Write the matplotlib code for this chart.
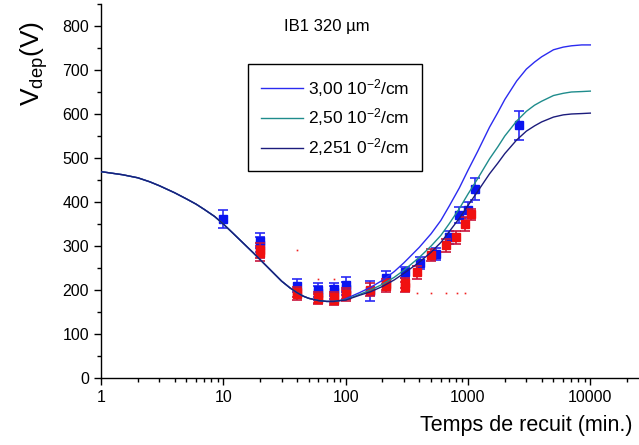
import matplotlib
matplotlib.use("Agg")
import matplotlib.pyplot as plt
from matplotlib.ticker import MultipleLocator, LogLocator, FixedLocator, FixedFormatter

plt.rcParams['font.family'] = ['Liberation Sans', 'DejaVu Sans']
plt.rcParams['mathtext.default'] = 'regular'

# fitted curves
t_low = [1, 1.5, 2, 2.5, 3, 4, 5, 6, 7, 8.5, 10, 12, 15, 17.5, 20, 25, 30, 35,
         40, 45, 50, 60, 70, 80, 90]
v_low = [469, 462, 455, 446, 437, 421, 407, 395, 383, 367, 350, 329, 303, 285,
         269, 242, 220, 205, 194, 186, 181, 176, 174, 174, 176]

t_high = [100, 130, 160, 200, 250, 300, 400, 500, 600, 700, 850, 1000, 1200,
          1500, 1750, 2000, 2500, 3000, 3500, 4000, 5000, 6000, 7000, 8500, 10000]
v_300 = [180, 194, 206, 222, 242, 262, 297, 328, 358, 390, 432, 472, 515,
         570, 603, 633, 675, 702, 718, 730, 746, 752, 755, 757, 757]
v_250 = [178, 190, 200, 213, 229, 245, 274, 300, 324, 350, 385, 418, 453,
         498, 525, 550, 584, 606, 620, 629, 642, 647, 650, 651, 652]
v_225 = [177, 188, 196, 208, 223, 238, 263, 286, 308, 332, 363, 392, 424,
         464, 488, 510, 541, 561, 573, 582, 593, 598, 600, 601, 602]

curve_labels = ['3,00 10$^{-2}$/cm', '2,50 10$^{-2}$/cm', '2,251 0$^{-2}$/cm']
curve_colors = ['#2b2bf0', '#1f8c8c', '#1c1c7c']

# measured points
blue_t = [10, 20, 20, 40, 60, 60, 80, 80, 100, 100, 157, 215, 303, 404, 551, 696, 852, 996, 1150, 2600]
blue_v = [361, 312, 303, 210, 200, 193, 202, 195, 212, 203, 198, 228, 240, 262, 282, 320, 370, 382, 430, 574]
blue_e = [21, 17, 17, 15, 15, 15, 15, 15, 17, 15, 22, 15, 12, 14, 14, 15, 18, 18, 25, 33]

red_t = [20, 20, 40, 40, 60, 60, 80, 80, 100, 100, 157, 215, 215, 303, 303, 381, 500, 657, 801, 951, 1050]
red_v = [290, 283, 195, 190, 183, 180, 183, 178, 192, 188, 201, 213, 208, 216, 207, 240, 280, 302, 320, 350, 372]
red_e = [17, 17, 12, 12, 12, 12, 12, 12, 12, 12, 15, 12, 12, 12, 12, 14, 14, 15, 15, 15, 12]

dot_t = [40, 60, 80, 381, 500, 657, 810, 950]
dot_v = [290, 224, 224, 194, 194, 194, 194, 194]

fig = plt.figure(figsize=(6.39, 4.45), dpi=100)
ax = fig.add_axes([0.158, 0.1506, 0.842, 0.8404])

ax.errorbar(blue_t, blue_v, yerr=blue_e, fmt='s', color='#0a14f0', ms=5.5,
            mec='#0a14f0', ecolor='#2a2af5', elinewidth=1.2, capsize=3.5, capthick=1.2, zorder=2)
ax.errorbar(red_t, red_v, yerr=red_e, fmt='s', color='#f01010', ms=5.5,
            mec='#f01010', ecolor='#c8143c', elinewidth=1.2, capsize=3.5, capthick=1.2, zorder=3)
ax.plot(dot_t, dot_v, 's', color='#f02020', ms=1.2, mew=0, zorder=3)

for v, lab, col in zip([v_300, v_250, v_225], curve_labels, curve_colors):
    ax.plot(t_low + t_high, v_low + v, color=col, lw=1.0, label=lab, zorder=4)

ax.set_xscale('log')
ax.set_xlim(1, 25000)
ax.set_ylim(0, 850)

ax.xaxis.set_major_locator(FixedLocator([1, 10, 100, 1000, 10000]))
ax.xaxis.set_major_formatter(FixedFormatter(['1', '10', '100', '1000', '10000']))
ax.xaxis.set_minor_locator(LogLocator(base=10, subs=range(2, 10), numticks=20))
ax.yaxis.set_major_locator(MultipleLocator(100))
ax.yaxis.set_minor_locator(MultipleLocator(50))

for side in ['top', 'right']:
    ax.spines[side].set_visible(False)
for side in ['left', 'bottom']:
    ax.spines[side].set_linewidth(1.0)

ax.tick_params(which='major', direction='out', length=5, width=1, labelsize=11.5)
ax.tick_params(which='minor', direction='out', length=3, width=1)

ax.set_ylabel('V$_{dep}$(V)', fontsize=19)
ax.yaxis.set_label_coords(-0.095, 0.84)
fig.text(0.99, 0.02, 'Temps de recuit (min.)', fontsize=15.5, ha='right', va='bottom')
fig.text(327 / 639, 1 - 27 / 445, 'IB1 320 µm', fontsize=12, ha='center', va='center')

leg = ax.legend(loc='upper left', bbox_to_anchor=(0.273, 0.84), borderaxespad=0,
                fontsize=12.5, fancybox=False, edgecolor='black', framealpha=1,
                handlelength=2.4, labelspacing=0.45, borderpad=0.75, handletextpad=0.3)
leg.get_frame().set_linewidth(1.0)

fig.savefig('out.png', dpi=100)
